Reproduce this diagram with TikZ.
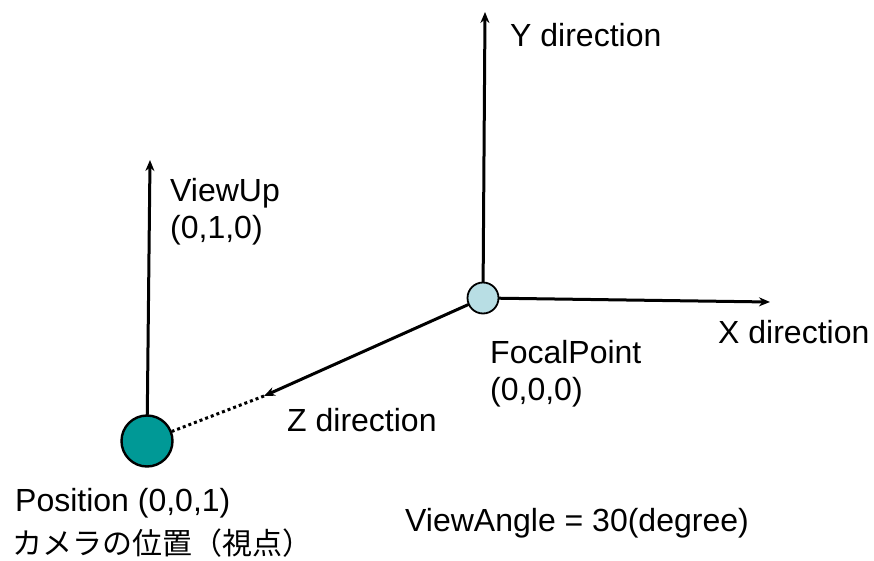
\documentclass[tikz,border=0pt]{standalone}
\usepackage{fontspec}
\setmainfont{Liberation Sans}
\newfontfamily\jpfont{Noto Sans CJK JP}
\usetikzlibrary{arrows.meta}

\definecolor{posfill}{RGB}{0,153,150}
\definecolor{focalfill}{RGB}{184,222,228}

\tikzset{
  axis/.style={line width=3pt,-{Stealth[length=11pt,width=9pt]}},
  label/.style={anchor=base west,inner sep=0pt,font=\fontsize{32}{32}\selectfont}
}

\begin{document}
\begin{tikzpicture}[
  x=1pt,
  y=-1pt,
  line cap=round,
  line join=round
]
  \useasboundingbox (0,0) rectangle (874,561);

  % Фокус и положение камеры
  \node[circle,draw,line width=1.8pt,fill=focalfill,minimum size=31pt,inner sep=0pt] (fp) at (483,298) {};
  \node[circle,draw,line width=2.4pt,fill=posfill,minimum size=51pt,inner sep=0pt] (pos) at (147,441) {};

  % Концы осей
  \coordinate (ytip) at (485,12);
  \coordinate (xtip) at (770,302);
  \coordinate (zmid) at (264,396);
  \coordinate (uptip) at (150,160);

  % Оси
  \draw[axis] (fp) -- (ytip);
  \draw[axis] (fp) -- (xtip);
  \draw[axis] (fp) -- (zmid);
  \draw[line width=3pt,line cap=butt,dash pattern=on 3pt off 3pt] (zmid) -- (pos);
  \draw[axis] (pos) -- (uptip);

  % Подписи
  \node[label] (ylab) at (510,47) {Y direction};
  \node[label] (xlab) at (718,343) {X direction};
  \node[label] (zlab) at (287,431) {Z direction};
  \node[label] (uplab) at (170,201) {ViewUp};
  \node[label] (upval) at (170,238) {(0,1,0)};
  \node[label] (fplab) at (490,363) {FocalPoint};
  \node[label] (fpval) at (490,400) {(0,0,0)};
  \node[label] (poslab) at (15,511) {Position (0,0,1)};
  \node[label,font=\fontsize{30}{30}\jpfont] (posjp) at (12,554) {カメラの位置（視点）};
  \node[label] (angle) at (405,531) {ViewAngle = 30(degree)};
\end{tikzpicture}
\end{document}
